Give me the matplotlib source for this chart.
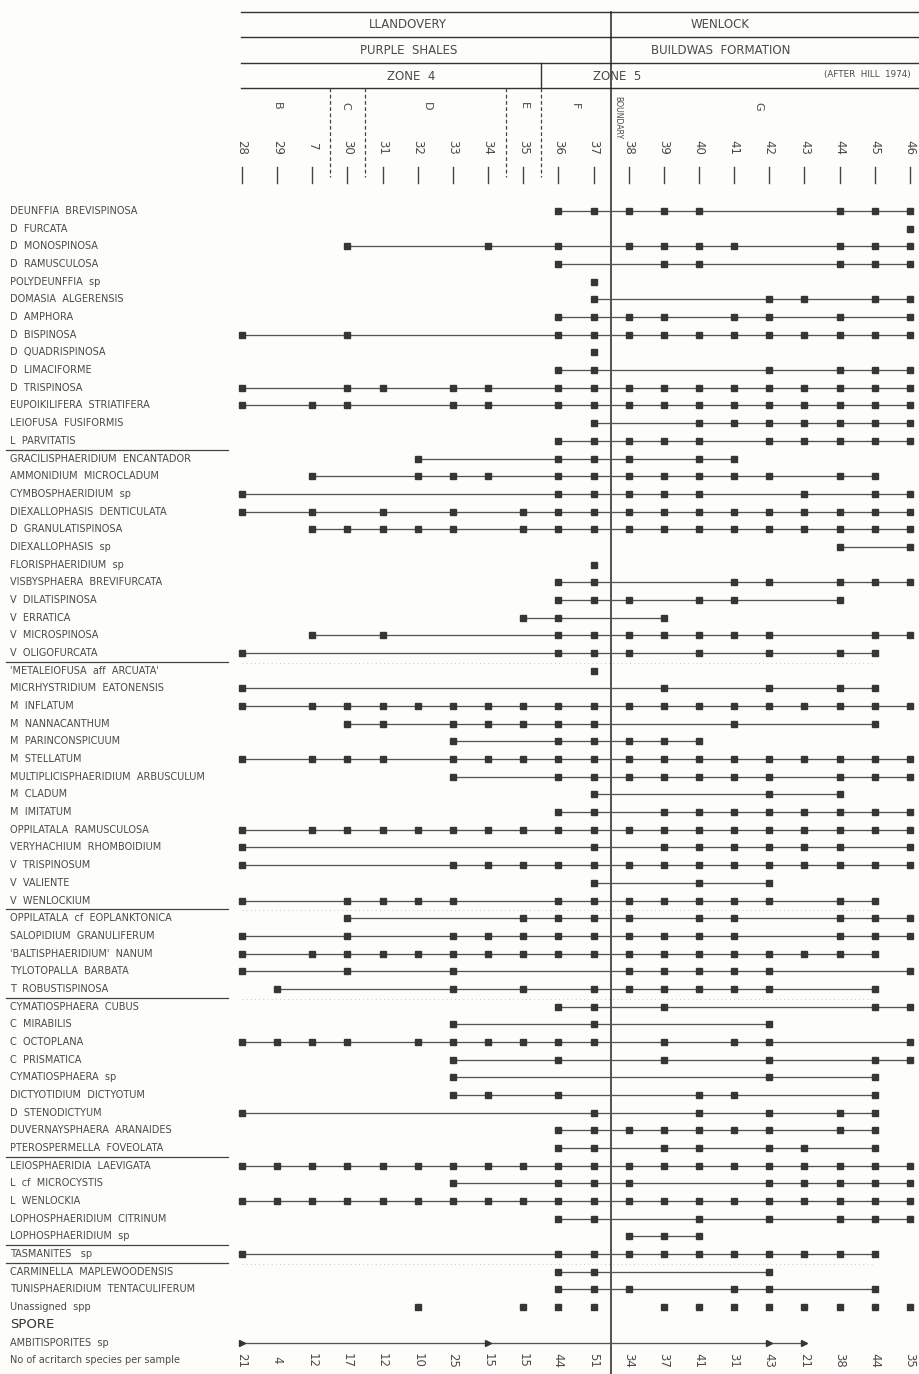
import matplotlib
matplotlib.use("Agg")
import matplotlib.pyplot as plt

# ── data ──────────────────────────────────────────────────────────────────────
SAMPLES = [28, 29, 7, 30, 31, 32, 33, 34, 35, 36, 37, 38, 39, 40, 41, 42, 43, 44, 45, 46]
COUNTS  = [21, 4, 12, 17, 12, 10, 25, 15, 15, 44, 51, 34, 37, 41, 31, 43, 21, 38, 44, 35]

SPECIES = [
    "DEUNFFIA  BREVISPINOSA", "D  FURCATA", "D  MONOSPINOSA", "D  RAMUSCULOSA",
    "POLYDEUNFFIA  sp", "DOMASIA  ALGERENSIS", "D  AMPHORA", "D  BISPINOSA",
    "D  QUADRISPINOSA", "D  LIMACIFORME", "D  TRISPINOSA", "EUPOIKILIFERA  STRIATIFERA",
    "LEIOFUSA  FUSIFORMIS", "L  PARVITATIS",
    "GRACILISPHAERIDIUM  ENCANTADOR", "AMMONIDIUM  MICROCLADUM", "CYMBOSPHAERIDIUM  sp",
    "DIEXALLOPHASIS  DENTICULATA", "D  GRANULATISPINOSA", "DIEXALLOPHASIS  sp",
    "FLORISPHAERIDIUM  sp", "VISBYSPHAERA  BREVIFURCATA", "V  DILATISPINOSA",
    "V  ERRATICA", "V  MICROSPINOSA", "V  OLIGOFURCATA",
    "'METALEIOFUSA  aff  ARCUATA'", "MICRHYSTRIDIUM  EATONENSIS", "M  INFLATUM",
    "M  NANNACANTHUM", "M  PARINCONSPICUUM", "M  STELLATUM",
    "MULTIPLICISPHAERIDIUM  ARBUSCULUM", "M  CLADUM", "M  IMITATUM",
    "OPPILATALA  RAMUSCULOSA", "VERYHACHIUM  RHOMBOIDIUM", "V  TRISPINOSUM",
    "V  VALIENTE", "V  WENLOCKIUM",
    "OPPILATALA  cf  EOPLANKTONICA", "SALOPIDIUM  GRANULIFERUM",
    "'BALTISPHAERIDIUM'  NANUM", "TYLOTOPALLA  BARBATA", "T  ROBUSTISPINOSA",
    "CYMATIOSPHAERA  CUBUS", "C  MIRABILIS", "C  OCTOPLANA", "C  PRISMATICA",
    "CYMATIOSPHAERA  sp", "DICTYOTIDIUM  DICTYOTUM", "D  STENODICTYUM",
    "DUVERNAYSPHAERA  ARANAIDES", "PTEROSPERMELLA  FOVEOLATA",
    "LEIOSPHAERIDIA  LAEVIGATA", "L  cf  MICROCYSTIS", "L  WENLOCKIA",
    "LOPHOSPHAERIDIUM  CITRINUM", "LOPHOSPHAERIDIUM  sp",
    "TASMANITES   sp",
    "CARMINELLA  MAPLEWOODENSIS", "TUNISPHAERIDIUM  TENTACULIFERUM",
]

ALL = SAMPLES
ALL_BUT_29 = [s for s in SAMPLES if s != 29]
G = [38, 39, 40, 41, 42, 43, 44, 45, 46]

OCCURS = [
    [36, 37, 38, 39, 40, 44, 45, 46],
    [46],
    [30, 34, 36, 38, 39, 40, 41, 44, 45, 46],
    [36, 39, 40, 44, 45, 46],
    [37],
    [37, 42, 43, 45, 46],
    [36, 37, 38, 39, 41, 42, 44, 46],
    [28, 30, 36, 37] + G,
    [37],
    [36, 37, 42, 44, 45, 46],
    [28, 30, 31, 33, 34, 36, 37] + G,
    [28, 7, 30, 33, 34, 36, 37] + G,
    [37, 40, 41, 42, 43, 44, 45, 46],
    [36, 37, 38, 39, 40, 42, 43, 44, 45, 46],
    [32, 36, 37, 38, 40, 41],
    [7, 32, 33, 34, 36, 37, 38, 39, 40, 41, 42, 44, 45],
    [28, 36, 37, 38, 39, 40, 43, 45, 46],
    [28, 7, 31, 33, 35, 36, 37] + G,
    [7, 30, 31, 32, 33, 35, 36, 37] + G,
    [44, 46],
    [37],
    [36, 37, 41, 42, 44, 45, 46],
    [36, 37, 38, 40, 41, 44],
    [35, 36, 39],
    [7, 31, 36, 37, 38, 39, 40, 41, 42, 45, 46],
    [28, 36, 37, 38, 40, 42, 44, 45],
    [37],
    [28, 39, 42, 44, 45],
    ALL_BUT_29,
    [30, 31, 33, 34, 35, 36, 37, 41, 45],
    [33, 36, 37, 38, 39, 40],
    [28, 7, 30, 31, 33, 34, 35, 36, 37] + G,
    [33, 36, 37, 38, 39, 40, 41, 42, 44, 45, 46],
    [37, 42, 44],
    [36, 37, 39, 40, 41, 42, 43, 44, 45, 46],
    ALL_BUT_29,
    [28, 37, 39, 40, 41, 42, 43, 44, 46],
    [28, 33, 34, 35, 36, 37] + G,
    [37, 40, 42],
    [28, 30, 31, 32, 33, 36, 37, 38, 39, 40, 41, 42, 44, 45],
    [30, 35, 36, 37, 38, 40, 41, 44, 45, 46],
    [28, 30, 33, 34, 35, 36, 37, 38, 39, 40, 41, 44, 45, 46],
    [28, 7, 30, 31, 32, 33, 34, 35, 36, 37, 38, 39, 40, 41, 42, 43, 44, 45],
    [28, 30, 33, 38, 39, 40, 41, 42, 46],
    [29, 33, 35, 37, 38, 39, 40, 41, 42, 45],
    [36, 37, 39, 45, 46],
    [33, 37, 42],
    [28, 29, 7, 30, 32, 33, 34, 35, 36, 37, 39, 41, 42, 46],
    [33, 36, 39, 42, 45, 46],
    [33, 42, 45],
    [33, 34, 36, 40, 41, 45],
    [28, 37, 40, 42, 44, 45],
    [36, 37, 38, 39, 40, 41, 42, 44, 45],
    [36, 37, 39, 40, 42, 43, 45],
    ALL,
    [33, 36, 37, 38, 42, 43, 44, 45, 46],
    ALL,
    [36, 37, 40, 42, 44, 45, 46],
    [38, 39, 40],
    [28, 36, 37, 38, 39, 40, 41, 42, 43, 44, 45],
    [36, 37, 42],
    [36, 37, 38, 41, 42, 45],
]

UNASSIGNED = [32, 35, 36, 37, 39, 40, 41, 42, 43, 44, 45, 46]
SPORE_NAME = "AMBITISPORITES  sp"
SPORE_OCC = [28, 34, 42, 43]

# rows after which a short rule is drawn under the names
GROUP_BREAKS = [13, 25, 39, 44, 53, 58, 59]

# ── layout (px -> data) ───────────────────────────────────────────────────────
W, H = 919, 1374
X0, DX = 242.0, 35.15     # column 0 pixel, column spacing
Y0, DY = 211.0, 17.68     # row 0 pixel, row spacing

def cx(px): return (px - X0) / DX
def ry(py): return (py - Y0) / DY

INK = "#363636"
LINE = "#555555"
TXT = "#4a4a4a"

fig = plt.figure(figsize=(W / 100, H / 100), dpi=100, facecolor="#fdfdf9")
ax = fig.add_axes([0, 0, 1, 1])
ax.set_facecolor("#fdfdf9")
ax.set_xlim(cx(0), cx(W))
ax.set_ylim(ry(H), ry(0))
ax.axis("off")

col = {s: i for i, s in enumerate(SAMPLES)}
lbl_x = cx(10)

# ── header ────────────────────────────────────────────────────────────────────
for py in (12, 37, 63, 88):
    ax.plot([cx(241), cx(W)], [ry(py), ry(py)], color="#333", lw=1.0)
bx = 10.5
ax.plot([bx, bx], [ry(12), ry(H)], color="#222", lw=1.1)
ax.plot([8.5, 8.5], [ry(63), ry(88)], color="#333", lw=1.0)
for xd in (2.5, 3.5, 7.5, 8.5):
    ax.plot([xd, xd], [ry(88), ry(177)], color="#444", lw=0.9, ls=(0, (3, 2)))

hfs = 8.5
ax.text(cx(408), ry(25), "LLANDOVERY", ha="center", va="center", fontsize=hfs, color=TXT)
ax.text(cx(720), ry(25), "WENLOCK", ha="center", va="center", fontsize=hfs, color=TXT)
ax.text(cx(409), ry(50), "PURPLE  SHALES", ha="center", va="center", fontsize=hfs, color=TXT)
ax.text(cx(721), ry(50), "BUILDWAS  FORMATION", ha="center", va="center", fontsize=hfs, color=TXT)
ax.text(cx(411), ry(76), "ZONE  4", ha="center", va="center", fontsize=hfs, color=TXT)
ax.text(cx(617), ry(76), "ZONE  5", ha="center", va="center", fontsize=hfs, color=TXT)
ax.text(cx(911), ry(75), "(AFTER  HILL  1974)", ha="right", va="center", fontsize=6.3, color=TXT)

for letter, px in [("B", 277), ("C", 345), ("D", 427), ("E", 524), ("F", 575), ("G", 758)]:
    ax.text(cx(px), ry(106), letter, ha="center", va="center", rotation=-90,
            fontsize=8, color=TXT)
ax.text(cx(618), ry(96), "BOUNDARY", ha="center", va="top", rotation=-90,
        fontsize=5.6, color=TXT)

for i, s in enumerate(SAMPLES):
    ax.text(i, ry(147), str(s), ha="center", va="center", rotation=-90,
            fontsize=8.5, color=TXT)
    ax.plot([i, i], [ry(167), ry(183)], color="#444", lw=1.0)

# ── species rows ──────────────────────────────────────────────────────────────
lfs = 7.0
for r, (name, occ) in enumerate(zip(SPECIES, OCCURS)):
    ax.text(lbl_x, r, name, ha="left", va="center", fontsize=lfs, color=TXT)
    xs = sorted(col[s] for s in occ)
    if len(xs) > 1:
        ax.plot([xs[0], xs[-1]], [r, r], color=LINE, lw=0.95, zorder=2)
    ax.plot(xs, [r] * len(xs), ls="none", marker="s", ms=4.8, color=INK, zorder=3)

for r in GROUP_BREAKS:
    ax.plot([cx(6), cx(228)], [r + 0.5, r + 0.5], color="#444", lw=0.9)
# faint dotted scan traces under some groups
for r in (25, 39, 44, 59):
    ax.plot([0, 18], [r + 0.55, r + 0.55], color="#bbb", lw=0.6, ls=(0, (1, 4)))

r = len(SPECIES)
ax.text(lbl_x, r, "Unassigned  spp", ha="left", va="center", fontsize=lfs, color=TXT)
xs = [col[s] for s in UNASSIGNED]
ax.plot(xs, [r] * len(xs), ls="none", marker="s", ms=4.8, color=INK, zorder=3)

r += 1
ax.text(lbl_x, r, "SPORE", ha="left", va="center", fontsize=9.5, color="#333")

r += 1
ax.text(lbl_x, r, SPORE_NAME, ha="left", va="center", fontsize=lfs, color=TXT)
xs = sorted(col[s] for s in SPORE_OCC)
ax.plot([xs[0], xs[-1]], [r, r], color=LINE, lw=0.95, zorder=2)
ax.plot(xs, [r] * len(xs), ls="none", marker=">", ms=5, color=INK, zorder=3)

r += 1
ax.text(lbl_x, r, "No of acritarch species per sample", ha="left", va="center",
        fontsize=lfs, color=TXT)
for i, c in enumerate(COUNTS):
    ax.text(i, r, str(c), ha="center", va="center", rotation=-90,
            fontsize=8.5, color=TXT)

fig.savefig("out.png", dpi=100, facecolor=fig.get_facecolor())
